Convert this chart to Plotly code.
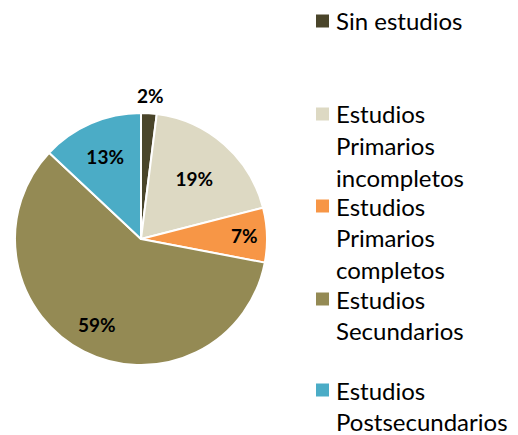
import math
import plotly.graph_objects as go

labels = ["Sin estudios", "Estudios Primarios incompletos", "Estudios Primarios completos",
          "Estudios Secundarios", "Estudios Postsecundarios"]
values = [2, 19, 7, 59, 13]
colors = ["#4A452A", "#DDD9C3", "#F79646", "#948A54", "#4BACC6"]
legend_lines = [["Sin estudios"], ["Estudios", "Primarios", "incompletos"],
                ["Estudios", "Primarios", "completos"], ["Estudios", "Secundarios"],
                ["Estudios", "Postsecundarios"]]
legend_start_y = [21, 114, 206, 299, 390]   # pixel position of first line of each item

W, H = 518, 435
cx, cy, R = 141, 239, 126

# plotly places the inside labels itself; the tiny and the big slice get labels
# placed at a radius fraction (outside 1.15R, big slice 0.77R)
positions = ["none", "inside", "inside", "none", "inside"]
label_r = [1.15, None, None, 0.77, None]

fig = go.Figure(go.Pie(
    labels=labels, values=values, sort=False, direction="clockwise", rotation=0,
    marker=dict(colors=colors, line=dict(color="white", width=2)),
    texttemplate="%{percent:.0%}", textinfo="percent",
    textposition=positions,
    insidetextorientation="horizontal",
    textfont=dict(family="Lato", size=19, color="black", weight="bold"),
    domain=dict(x=[(cx - R) / W, (cx + R) / W], y=[(H - cy - R) / H, (H - cy + R) / H]),
    showlegend=False, hoverinfo="label+percent",
))

total = sum(values)
cum = 0
for v, pos, fr in zip(values, positions, label_r):
    mid = (cum + v / 2) / total * 2 * math.pi
    cum += v
    if pos == "none":
        r = fr * (R - 1)
        px = cx + r * math.sin(mid)
        py = cy - r * math.cos(mid)
        fig.add_annotation(text=f"<b>{round(v / total * 100)}%</b>", xref="paper", yref="paper",
                           x=px / W, y=(H - py) / H, xanchor="center", yanchor="middle",
                           showarrow=False, font=dict(family="Lato", size=19, color="black"))

line_h = 31.5
sq = 13
for lines, y0, col in zip(legend_lines, legend_start_y, colors):
    fig.add_shape(type="rect", xref="paper", yref="paper",
                  x0=316 / W, x1=(316 + sq) / W, y0=(H - y0 - sq / 2) / H, y1=(H - y0 + sq / 2) / H,
                  fillcolor=col, line=dict(width=0))
    for i, t in enumerate(lines):
        fig.add_annotation(text=t, xref="paper", yref="paper", x=334 / W,
                           y=(H - (y0 + i * line_h)) / H, xanchor="left", yanchor="middle",
                           showarrow=False, font=dict(family="Lato", size=24, color="black"))

fig.update_layout(width=W, height=H, margin=dict(l=0, r=0, t=0, b=0),
                  paper_bgcolor="white", plot_bgcolor="white")
fig.write_html("out.html", config={"displayModeBar": False})

with open("out.html", "r", encoding="utf-8") as f:
    html = f.read()
html = html.replace("<head>", "<head><style>html,body{margin:0;padding:0;overflow:hidden;}</style>", 1)
with open("out.html", "w", encoding="utf-8") as f:
    f.write(html)
